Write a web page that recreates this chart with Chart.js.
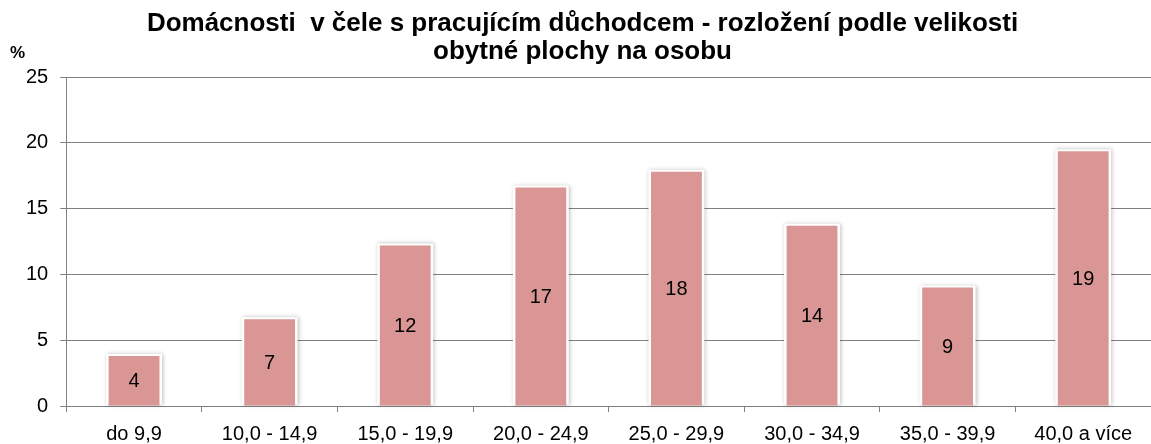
<!DOCTYPE html>
<html>
<head>
<meta charset="utf-8">
<script src="https://cdn.jsdelivr.net/npm/chart.js@4/dist/chart.umd.min.js"></script>
<style>
  html, body { margin: 0; padding: 0; background: #fff; }
  #wrap { width: 1151px; height: 444px; }
</style>
</head>
<body>
<div id="wrap"><canvas id="chart" width="1151" height="444"></canvas></div>
<script>
const categories = ['do 9,9', '10,0 - 14,9', '15,0 - 19,9', '20,0 - 24,9', '25,0 - 29,9', '30,0 - 34,9', '35,0 - 39,9', '40,0 a více'];
const values = [3.8, 6.6, 12.2, 16.6, 17.8, 13.7, 9.0, 19.35];
const yTicks = [0, 5, 10, 15, 20, 25];
const titleLines = ['Domácnosti  v čele s pracujícím důchodcem - rozložení podle velikosti', 'obytné plochy na osobu'];

const FONT = '"Liberation Sans", Arial, sans-serif';

// white halo with a soft shadow behind each bar, like the spreadsheet original
const barHalo = {
    id: 'barHalo',
    beforeDatasetsDraw(chart) {
        const ctx = chart.ctx;
        const meta = chart.getDatasetMeta(0);
        ctx.save();
        ctx.fillStyle = '#ffffff';
        ctx.shadowColor = 'rgba(0,0,0,0.25)';
        ctx.shadowBlur = 4;
        ctx.shadowOffsetX = 1;
        ctx.shadowOffsetY = 0;
        meta.data.forEach(bar => {
            const w = bar.width + 5;
            ctx.fillRect(bar.x - w / 2, bar.y - 2, w, bar.base - bar.y + 1);
        });
        ctx.restore();
    }
};

// rounded value in the middle of each bar + the "%" unit label
const barLabels = {
    id: 'barLabels',
    afterDatasetsDraw(chart) {
        const ctx = chart.ctx;
        const meta = chart.getDatasetMeta(0);
        ctx.save();
        ctx.fillStyle = '#000';
        ctx.font = '20px ' + FONT;
        ctx.textAlign = 'center';
        ctx.textBaseline = 'middle';
        meta.data.forEach((bar, i) => {
            ctx.fillText(Math.round(values[i]), bar.x, (bar.y + bar.base) / 2 + 1);
        });
        ctx.font = 'bold 17px ' + FONT;
        ctx.textAlign = 'left';
        ctx.fillText('%', 10, 53);
        ctx.restore();
    }
};

new Chart(document.getElementById('chart'), {
    type: 'bar',
    data: {
        labels: categories,
        datasets: [{
            data: values,
            backgroundColor: '#D99694',
            borderWidth: 0,
            barPercentage: 0.375,
            categoryPercentage: 1
        }]
    },
    options: {
        responsive: false,
        animation: false,
        devicePixelRatio: 1,
        layout: { padding: { left: 14, right: 0, top: 6, bottom: -12 } },
        plugins: {
            legend: { display: false },
            tooltip: { enabled: false },
            title: {
                display: true,
                text: titleLines,
                color: '#000',
                font: { family: FONT, size: 26, weight: 'bold', lineHeight: 1.077 },
                padding: { top: 4, bottom: 11 }
            }
        },
        scales: {
            x: {
                grid: { drawOnChartArea: false, drawTicks: true, tickLength: 6, color: '#808080', offset: true },
                border: { color: '#808080', width: 1 },
                ticks: { color: '#000', font: { family: FONT, size: 20, lineHeight: 1 }, padding: 12, maxRotation: 0 }
            },
            y: {
                min: 0,
                max: 25,
                afterBuildTicks(scale) { scale.ticks = yTicks.map(v => ({ value: v })); },
                grid: { color: '#808080', lineWidth: 1, tickLength: 6 },
                border: { color: '#808080', width: 1 },
                ticks: { color: '#000', font: { family: FONT, size: 20 }, padding: 12 }
            }
        }
    },
    plugins: [barHalo, barLabels]
});
</script>
</body>
</html>
